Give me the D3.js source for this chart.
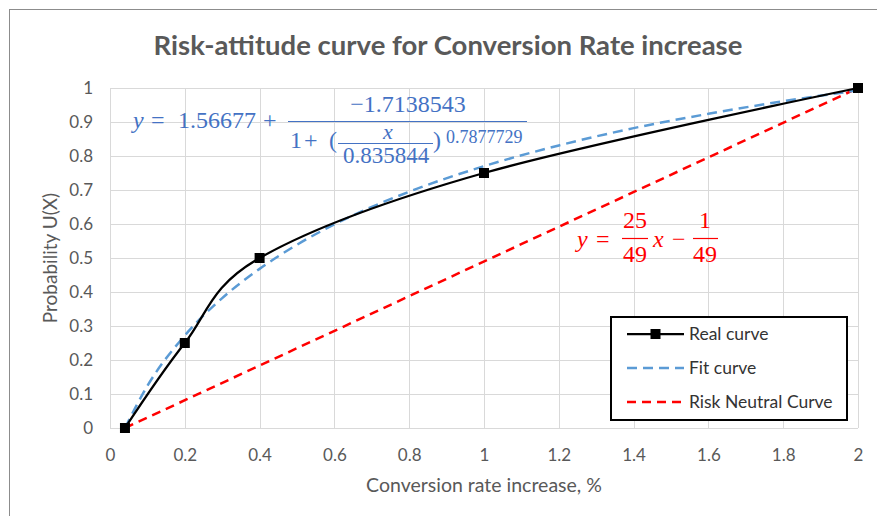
<!DOCTYPE html>
<html>
<head>
<meta charset="utf-8">
<script src="https://cdn.jsdelivr.net/npm/d3@7"></script>
<style>
  body { margin: 0; background: #fff; }
  svg { display: block; }
</style>
</head>
<body>
<svg id="chart" width="877" height="516"></svg>
<script>
// Data
const realX = [0.04, 0.2, 0.4, 1, 2];
const realY = [0, 0.25, 0.5, 0.75, 1];
const fitX  = [0.04, 0.1, 0.2, 0.3, 0.4, 0.5, 0.6, 0.8, 1.0, 1.2, 1.4, 1.6, 1.8, 2.0];
const fitY  = [0, 0.124, 0.272, 0.382, 0.468, 0.539, 0.599, 0.695, 0.770, 0.831, 0.882, 0.924, 0.961, 0.993];
const neutralX = [0.04, 2];
const neutralY = [0, 1];
const xTicks = [0, 0.2, 0.4, 0.6, 0.8, 1, 1.2, 1.4, 1.6, 1.8, 2];
const yTicks = [0, 0.1, 0.2, 0.3, 0.4, 0.5, 0.6, 0.7, 0.8, 0.9, 1];
const legendNames = ["Real curve", "Fit curve", "Risk Neutral Curve"];

const svg = d3.select("#chart");
const uiFont = "Lato, 'Open Sans', sans-serif";
const mathFont = "'Liberation Serif', 'DejaVu Serif', serif";
const grey = "#595959";
const blue = "#4472C4";
const red = "#ff0000";

// Plot area
const plot = { left: 110, right: 858, top: 88, bottom: 428 };
const x = d3.scaleLinear().domain([0, 2]).range([plot.left, plot.right]);
const y = d3.scaleLinear().domain([0, 1]).range([plot.bottom, plot.top]);

// chart border (only top/left visible in the crop)
svg.append("rect")
  .attr("x", 9.5).attr("y", 9.5).attr("width", 900).attr("height", 540)
  .attr("fill", "none").attr("stroke", "#8c8c8c").attr("stroke-width", 1);

// Title
svg.append("text")
  .attr("x", 448).attr("y", 55).attr("text-anchor", "middle")
  .attr("font-family", uiFont).attr("font-weight", "bold")
  .attr("font-size", 27.5).attr("fill", grey)
  .text("Risk-attitude curve for Conversion Rate increase");

// Gridlines
const grid = svg.append("g").attr("stroke", "#d9d9d9").attr("stroke-width", 1);
grid.selectAll("line.v").data(xTicks).join("line")
  .attr("x1", d => Math.round(x(d)) + 0.5).attr("x2", d => Math.round(x(d)) + 0.5)
  .attr("y1", plot.top).attr("y2", plot.bottom);
grid.selectAll("line.h").data(yTicks).join("line")
  .attr("y1", d => Math.round(y(d)) + 0.5).attr("y2", d => Math.round(y(d)) + 0.5)
  .attr("x1", plot.left).attr("x2", plot.right);

// Axes (tick labels only)
const xAxis = svg.append("g")
  .attr("transform", `translate(0,${plot.bottom + 15})`)
  .call(d3.axisBottom(x).tickValues(xTicks).tickSize(0).tickPadding(6).tickFormat(d3.format("")));
const yAxis = svg.append("g")
  .attr("transform", `translate(${plot.left - 17},0)`)
  .call(d3.axisLeft(y).tickValues(yTicks).tickSize(0).tickPadding(0).tickFormat(d3.format("")));
[xAxis, yAxis].forEach(a => {
  a.select(".domain").remove();
  a.selectAll("text")
    .attr("font-family", uiFont).attr("font-size", 17).attr("fill", grey);
});

// Axis titles
svg.append("text")
  .attr("x", 484).attr("y", 492).attr("text-anchor", "middle")
  .attr("font-family", uiFont).attr("font-size", 19.5).attr("fill", grey)
  .text("Conversion rate increase, %");
svg.append("text")
  .attr("transform", "translate(57,258) rotate(-90)").attr("text-anchor", "middle")
  .attr("font-family", uiFont).attr("font-size", 19).attr("fill", grey)
  .text("Probability U(X)");

// Series
const line = d3.line().x(d => x(d[0])).y(d => y(d[1]));

svg.append("path")
  .datum(d3.zip(neutralX, neutralY))
  .attr("d", line)
  .attr("fill", "none").attr("stroke", red)
  .attr("stroke-width", 2.5).attr("stroke-dasharray", "9,6");

svg.append("path")
  .datum(d3.zip(fitX, fitY))
  .attr("d", line.curve(d3.curveMonotoneX))
  .attr("fill", "none").attr("stroke", "#5B9BD5")
  .attr("stroke-width", 2.5).attr("stroke-dasharray", "10,6");

svg.append("path")
  .datum(d3.zip(realX, realY))
  .attr("d", d3.line().x(d => x(d[0])).y(d => y(d[1])).curve(d3.curveCardinal.tension(0)))
  .attr("fill", "none").attr("stroke", "#000").attr("stroke-width", 2.25);

svg.selectAll("rect.marker")
  .data(d3.zip(realX, realY))
  .join("rect")
  .attr("class", "marker")
  .attr("x", d => x(d[0]) - 5).attr("y", d => y(d[1]) - 5)
  .attr("width", 10).attr("height", 10).attr("fill", "#000");

// helper for equation pieces
function put(g, px, py, txt, opts = {}) {
  return g.append("text").attr("x", px).attr("y", py)
    .attr("font-size", opts.size || 24)
    .attr("text-anchor", opts.anchor || "start")
    .attr("font-style", opts.italic ? "italic" : null)
    .text(txt);
}
function bar(g, x1, x2, py, color) {
  g.append("line").attr("x1", x1).attr("x2", x2).attr("y1", py).attr("y2", py)
    .attr("stroke", color).attr("stroke-width", 1.2);
}

// Fit equation (blue)
const eq = svg.append("g").attr("font-family", mathFont).attr("fill", blue);
put(eq, 133, 128, "y", { italic: true });
put(eq, 151, 128, "=");
put(eq, 178, 128, "1.56677");
put(eq, 263, 128, "+");
bar(eq, 288, 527, 121.5, blue);
put(eq, 408, 112, "\u22121.7138543", { anchor: "middle" });
put(eq, 290, 148, "1");
put(eq, 304, 148, "+");
put(eq, 329, 148, "(");
put(eq, 388, 139, "x", { italic: true, anchor: "middle", size: 22 });
bar(eq, 338, 433, 143.5, blue);
put(eq, 386, 163, "0.835844", { anchor: "middle", size: 23 });
put(eq, 433, 148, ")");
put(eq, 446, 143, "0.7877729", { size: 18 });

// Risk neutral equation (red)
const req = svg.append("g").attr("font-family", mathFont).attr("fill", red);
put(req, 577, 247, "y", { italic: true });
put(req, 596, 247, "=");
put(req, 635, 228, "25", { anchor: "middle" });
bar(req, 622, 648, 238.5, red);
put(req, 635, 262, "49", { anchor: "middle" });
put(req, 653, 247, "x", { italic: true });
put(req, 672, 247, "\u2212");
put(req, 705, 228, "1", { anchor: "middle" });
bar(req, 693, 718, 238.5, red);
put(req, 705, 262, "49", { anchor: "middle" });

// Legend
const legend = svg.append("g");
legend.append("rect")
  .attr("x", 611).attr("y", 317).attr("width", 236).attr("height", 103)
  .attr("fill", "#fff").attr("stroke", "#000").attr("stroke-width", 2);
const styles = [
  { stroke: "#000", dash: null, width: 2.25, marker: true },
  { stroke: "#5B9BD5", dash: "10,6", width: 2.5, marker: false },
  { stroke: red, dash: "9,6", width: 2.5, marker: false }
];
const rows = legend.selectAll("g.row").data(legendNames).join("g")
  .attr("transform", (d, i) => `translate(627,${334 + i * 34})`);
rows.append("line")
  .attr("x1", 0).attr("x2", 57).attr("y1", 0).attr("y2", 0)
  .attr("stroke", (d, i) => styles[i].stroke)
  .attr("stroke-width", (d, i) => styles[i].width)
  .attr("stroke-dasharray", (d, i) => styles[i].dash);
rows.filter((d, i) => styles[i].marker).append("rect")
  .attr("x", 23.5).attr("y", -5).attr("width", 10).attr("height", 10).attr("fill", "#000");
rows.append("text")
  .attr("x", 62).attr("y", 6)
  .attr("font-family", uiFont).attr("font-size", 17.5).attr("fill", "#333")
  .text(d => d);
</script>
</body>
</html>
